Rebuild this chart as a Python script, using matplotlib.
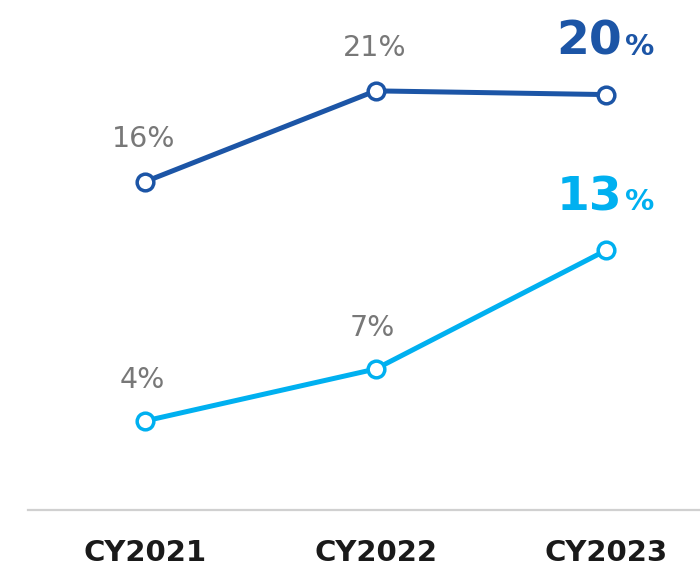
import matplotlib
matplotlib.use("Agg")
import matplotlib.pyplot as plt

years = ["CY2021", "CY2022", "CY2023"]
# plotted heights
dark_vals = [17.7, 22.6, 22.4]
light_vals = [4.8, 7.6, 14.0]
# printed labels
dark_labels = ["16%", "21%", "20"]
light_labels = ["4%", "7%", "13"]

DARK = "#1c55a6"
LIGHT = "#00b0f0"
GRAY = "#787878"

fig = plt.figure(figsize=(7, 5.7), dpi=100)
ax = fig.add_axes([28 / 700, 60 / 570, 1 - 28 / 700, 510 / 570])

x = list(range(len(years)))
for vals, col in [(dark_vals, DARK), (light_vals, LIGHT)]:
    ax.plot(x, vals, color=col, lw=3.6, marker="o", ms=12,
            mfc="white", mec=col, mew=2.5, zorder=3, solid_capstyle="round")

# small gray labels on first two points
for i in range(2):
    ax.annotate(dark_labels[i], (x[i], dark_vals[i]), xytext=(-1, 43),
                textcoords="offset pixels", ha="center", va="center",
                fontsize=20.5, color=GRAY)
    ax.annotate(light_labels[i], (x[i], light_vals[i]), xytext=(-3, 41),
                textcoords="offset pixels", ha="center", va="center",
                fontsize=20.5, color=GRAY)

# large final labels
for vals, labs, col in [(dark_vals, dark_labels, DARK), (light_vals, light_labels, LIGHT)]:
    ax.annotate(labs[2], (x[2], vals[2]), xytext=(16, 40),
                textcoords="offset pixels", ha="right", va="baseline",
                fontsize=34, fontweight="bold", color=col)
    ax.annotate("%", (x[2], vals[2]), xytext=(19, 40),
                textcoords="offset pixels", ha="left", va="baseline",
                fontsize=21, fontweight="bold", color=col)

ax.set_xlim(-(145 - 28) / 230.5, 2 + (700 - 606) / 230.5)
ax.set_ylim(0, 27.5)
ax.set_xticks(x)
ax.set_xticklabels(years, fontsize=21, fontweight="bold", color="#1a1a1a")
ax.tick_params(axis="x", length=0, pad=21)
ax.set_yticks([])
for s in ["top", "left", "right"]:
    ax.spines[s].set_visible(False)
ax.spines["bottom"].set_color("#d0d0d0")
ax.spines["bottom"].set_linewidth(1.6)

fig.savefig("out.png", dpi=100)
